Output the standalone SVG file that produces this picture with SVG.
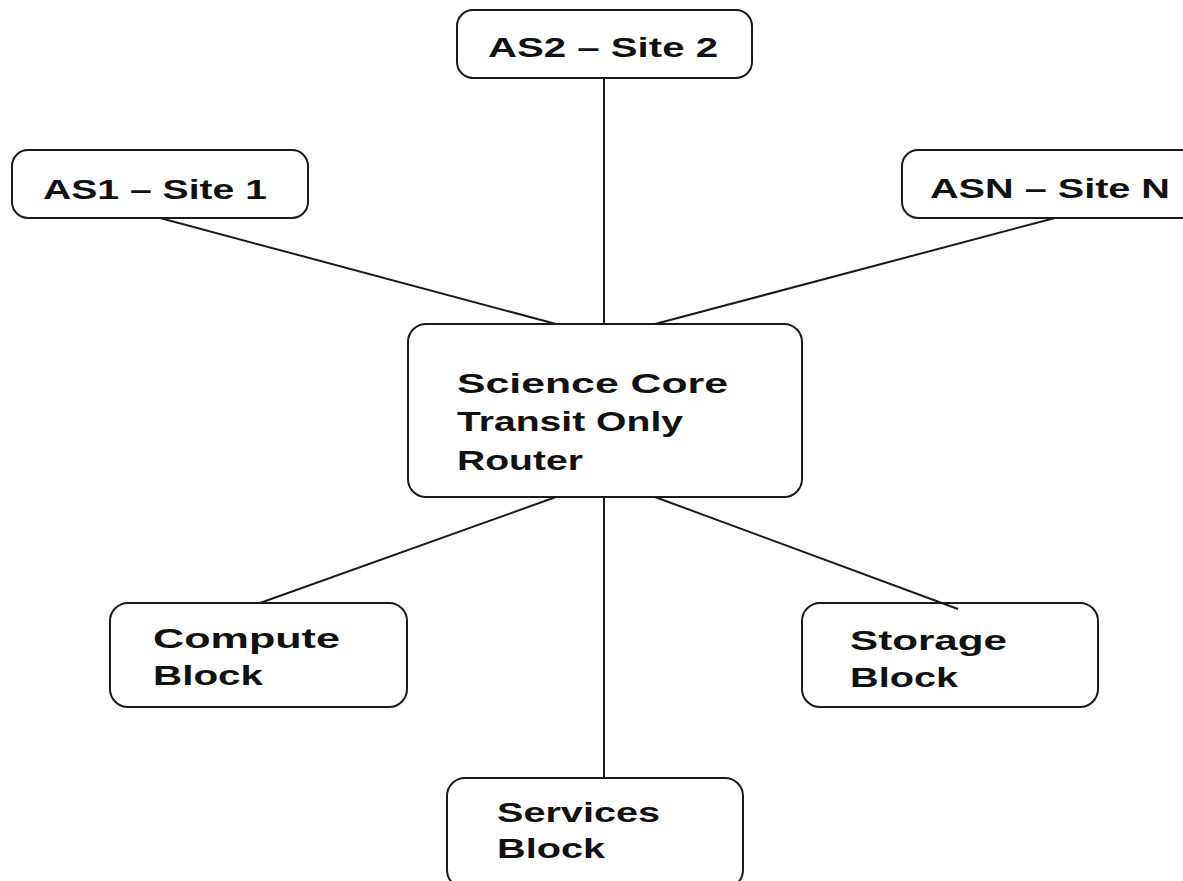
<svg xmlns="http://www.w3.org/2000/svg" width="1183" height="881" viewBox="0 0 1183 881">
  <style>
    .box { fill: #ffffff; stroke: #1a1a1a; stroke-width: 2; }
    .link { stroke: #1a1a1a; stroke-width: 2; fill: none; }
    .lbl { font-family: "Liberation Sans", Arial, sans-serif; font-weight: 700; font-size: 28px; fill: #111111; }
  </style>
  <rect width="1183" height="881" fill="#ffffff"/>

  <g id="as2">
    <rect class="box" x="457" y="10" width="295" height="68" rx="16"/>
    <text class="lbl" x="488" y="57" textLength="230" lengthAdjust="spacingAndGlyphs">AS2 – Site 2</text>
  </g>

  <g id="as1">
    <rect class="box" x="12" y="150" width="296" height="68" rx="16"/>
    <text class="lbl" x="43" y="199" textLength="224" lengthAdjust="spacingAndGlyphs">AS1 – Site 1</text>
  </g>

  <g id="asn">
    <rect class="box" x="902" y="150" width="300" height="68" rx="16"/>
    <text class="lbl" x="930" y="198" textLength="240" lengthAdjust="spacingAndGlyphs">ASN – Site N</text>
  </g>

  <g id="core">
    <rect class="box" x="408" y="324" width="394" height="173" rx="18"/>
    <text class="lbl" x="457" y="393" textLength="271" lengthAdjust="spacingAndGlyphs">Science Core</text>
    <text class="lbl" x="457" y="431" textLength="226" lengthAdjust="spacingAndGlyphs">Transit Only</text>
    <text class="lbl" x="457" y="470" textLength="126" lengthAdjust="spacingAndGlyphs">Router</text>
  </g>

  <g id="compute">
    <rect class="box" x="110" y="603" width="297" height="104" rx="18"/>
    <text class="lbl" x="153" y="648" textLength="187" lengthAdjust="spacingAndGlyphs">Compute</text>
    <text class="lbl" x="153" y="685" textLength="110" lengthAdjust="spacingAndGlyphs">Block</text>
  </g>

  <g id="storage">
    <rect class="box" x="802" y="603" width="296" height="104" rx="18"/>
    <text class="lbl" x="850" y="650" textLength="157" lengthAdjust="spacingAndGlyphs">Storage</text>
    <text class="lbl" x="850" y="687" textLength="108" lengthAdjust="spacingAndGlyphs">Block</text>
  </g>

  <g id="services">
    <rect class="box" x="447" y="778" width="296" height="110" rx="18"/>
    <text class="lbl" x="497" y="822" textLength="163" lengthAdjust="spacingAndGlyphs">Services</text>
    <text class="lbl" x="497" y="858" textLength="108" lengthAdjust="spacingAndGlyphs">Block</text>
  </g>

  <!-- links drawn last so the storage link's overshoot past the box edge stays visible -->
  <g id="connectors">
    <line class="link" x1="604" y1="78" x2="604" y2="324"/>
    <line class="link" x1="160" y1="218" x2="556" y2="324"/>
    <line class="link" x1="1055" y1="218" x2="655" y2="324"/>
    <line class="link" x1="556" y1="497" x2="260" y2="603"/>
    <line class="link" x1="604" y1="497" x2="604" y2="778"/>
    <line class="link" x1="655" y1="497" x2="958" y2="609"/>
  </g>
</svg>
